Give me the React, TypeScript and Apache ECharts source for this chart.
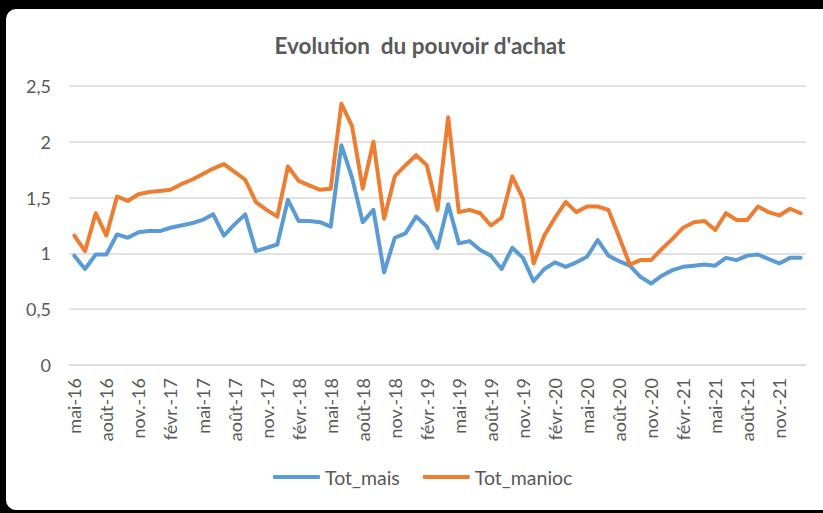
import React, { useEffect, useRef } from "react";
import * as echarts from "echarts";

const MONTHS_FR = ["janv.", "févr.", "mars", "avr.", "mai", "juin", "juil.", "août", "sept.", "oct.", "nov.", "déc."];
const START_MONTH = 4; // mai
const START_YEAR = 16;
const N_MONTHS = 69;

const categories: string[] = [];
for (let i = 0; i < N_MONTHS; i++) {
  const m = (START_MONTH + i) % 12;
  const y = START_YEAR + Math.floor((START_MONTH + i) / 12);
  categories.push(`${MONTHS_FR[m]}-${y}`);
}

const totMais = [
  0.98, 0.86, 0.99, 0.99, 1.17, 1.14, 1.19, 1.2, 1.2, 1.23, 1.25, 1.27, 1.3, 1.35, 1.16, 1.26, 1.35, 1.02, 1.05, 1.08,
  1.48, 1.29, 1.29, 1.28, 1.24, 1.97, 1.68, 1.28, 1.39, 0.83, 1.14, 1.18, 1.33, 1.24, 1.05, 1.44, 1.09, 1.11, 1.03, 0.98,
  0.86, 1.05, 0.96, 0.75, 0.86, 0.92, 0.88, 0.92, 0.97, 1.12, 0.98, 0.93, 0.89, 0.79, 0.73, 0.8, 0.85, 0.88, 0.89, 0.9,
  0.89, 0.96, 0.94, 0.98, 0.99, 0.95, 0.91, 0.96, 0.96,
];

const totManioc = [
  1.16, 1.02, 1.36, 1.16, 1.51, 1.47, 1.53, 1.55, 1.56, 1.57, 1.62, 1.66, 1.71, 1.76, 1.8, 1.73, 1.66, 1.46, 1.39, 1.33,
  1.78, 1.65, 1.61, 1.57, 1.58, 2.34, 2.14, 1.58, 2.0, 1.31, 1.69, 1.79, 1.88, 1.79, 1.39, 2.22, 1.37, 1.39, 1.36, 1.25,
  1.32, 1.69, 1.49, 0.91, 1.16, 1.32, 1.46, 1.37, 1.42, 1.42, 1.39, 1.15, 0.9, 0.94, 0.94, 1.04, 1.13, 1.23, 1.28, 1.29,
  1.21, 1.36, 1.3, 1.3, 1.42, 1.37, 1.34, 1.4, 1.36,
];

const TITLE = "Evolution  du pouvoir d'achat";
const FONT = "Lato, 'Noto Sans', sans-serif";
const TEXT = "#595959";

export default function App() {
  const ref = useRef<HTMLDivElement>(null);

  useEffect(() => {
    if (!ref.current) return;
    const chart = echarts.init(ref.current, undefined, { renderer: "svg" });
    chart.setOption({
      animation: false,
      graphic: [
        {
          type: "text",
          x: 420,
          y: 45,
          style: {
            text: TITLE,
            textAlign: "center",
            textVerticalAlign: "middle",
            fontFamily: FONT,
            fontSize: 22.5,
            fontWeight: "bold",
            fill: TEXT,
          },
        },
      ],
      legend: {
        bottom: 21,
        left: 268,
        itemWidth: 47,
        itemHeight: 4,
        itemGap: 23,
        icon: "roundRect",
        textStyle: { fontFamily: FONT, fontSize: 19.5, color: TEXT },
        data: ["Tot_mais", "Tot_manioc"],
      },
      grid: { left: 69, right: 17, top: 86, bottom: 148 },
      xAxis: {
        type: "category",
        data: categories,
        boundaryGap: true,
        axisLine: { lineStyle: { color: "#d9d9d9", width: 1 } },
        axisTick: { interval: 2, length: 5, lineStyle: { color: "#d9d9d9" } },
        axisLabel: {
          interval: 2,
          rotate: 90,
          margin: 13,
          fontFamily: FONT,
          fontSize: 18,
          color: TEXT,
        },
      },
      yAxis: {
        type: "value",
        min: 0,
        max: 2.5,
        interval: 0.5,
        axisLine: { show: false },
        axisTick: { show: false },
        splitLine: { lineStyle: { color: "#d9d9d9", width: 1.5 } },
        axisLabel: {
          margin: 18,
          fontFamily: FONT,
          fontSize: 18,
          color: TEXT,
          formatter: (v: number) => String(v).replace(".", ","),
        },
      },
      series: [
        {
          name: "Tot_mais",
          type: "line",
          data: totMais,
          symbol: "none",
          lineStyle: { color: "#5B9BD5", width: 4, join: "round", cap: "round" },
          itemStyle: { color: "#5B9BD5" },
        },
        {
          name: "Tot_manioc",
          type: "line",
          data: totManioc,
          symbol: "none",
          lineStyle: { color: "#ED7D31", width: 4, join: "round", cap: "round" },
          itemStyle: { color: "#ED7D31" },
        },
      ],
    });
    return () => chart.dispose();
  }, []);

  return (
    <div
      style={{
        position: "fixed",
        left: 0,
        top: 0,
        width: 823,
        height: 513,
        background: "#000",
        overflow: "hidden",
      }}
    >
      <div
        style={{
          position: "absolute",
          left: 6,
          top: 9,
          width: 840,
          height: 501,
          background: "#fff",
          borderRadius: 10,
        }}
      />
      <div ref={ref} style={{ position: "absolute", left: 0, top: 0, width: 823, height: 513 }} />
    </div>
  );
}
